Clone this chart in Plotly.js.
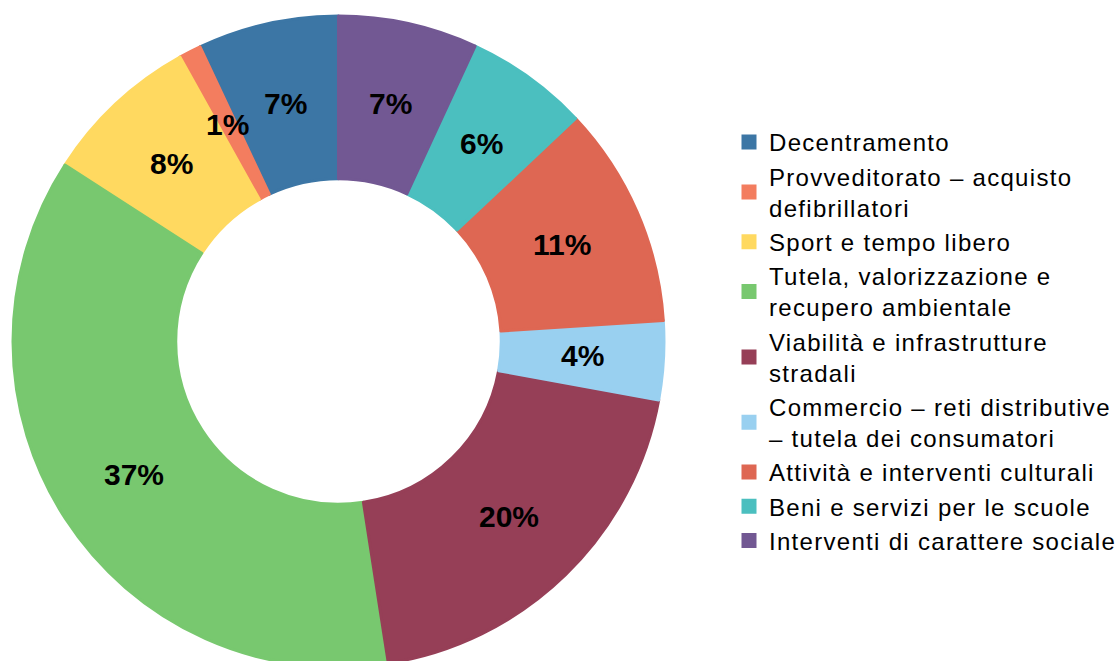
<!DOCTYPE html>
<html>
<head>
<meta charset="utf-8">
<script src="https://cdn.plot.ly/plotly-3.0.1.min.js"></script>
<style>
html, body { margin: 0; padding: 0; overflow: hidden; background: #fff; }
#chart { width: 1180px; height: 700px; }
text.legendtext { letter-spacing: 1.3px; }
</style>
</head>
<body>
<div id="chart"></div>
<script>
const labels = [
  "Decentramento",
  "Provveditorato – acquisto<br>defibrillatori",
  "Sport e tempo libero",
  "Tutela, valorizzazione e<br>recupero ambientale",
  "Viabilità e infrastrutture<br>stradali",
  "Commercio – reti distributive<br>– tutela dei consumatori",
  "Attività e interventi culturali",
  "Beni e servizi per le scuole",
  "Interventi di carattere sociale"
];
const values = [7.0, 1.1, 7.8, 36.6, 19.7, 3.9, 11.0, 6.1, 6.9];
const colors = ["#3c76a5", "#f37d5f", "#ffd960", "#78c86f", "#963f57", "#99d0f0", "#de6753", "#4bbfbf", "#725893"];

const W = 1180, H = 700;
const domX = [13 / W, 664 / W];
const domY = [1 - 667 / H, 1 - 16 / H];
const hole = 0.5;

const total = values.reduce((a, b) => a + b, 0);
// first slice starts at 12 o'clock and slices run counterclockwise
const rotation = -360 * values[0] / total;

// percentage labels at mid-ring, mid-angle of each slice
const midR = (1 + hole) / 2;
let cum = 0;
const annotations = [];
values.forEach(v => {
  const th = 2 * Math.PI * (cum + v / 2) / total;
  annotations.push({
    xref: "x", yref: "y",
    x: -Math.sin(th) * midR,
    y: Math.cos(th) * midR,
    text: Math.round(v / total * 100) + "%",
    showarrow: false,
    xanchor: "center", yanchor: "middle",
    font: { family: "Liberation Sans, Arial, sans-serif", size: 30, color: "#000", weight: "bold" }
  });
  cum += v;
});

const pie = {
  type: "pie",
  labels: labels,
  values: values,
  sort: false,
  direction: "counterclockwise",
  rotation: rotation,
  hole: hole,
  domain: { x: domX, y: domY },
  marker: { colors: colors, line: { width: 3, color: colors } },
  textinfo: "none",
  hoverinfo: "label+percent"
};

const layout = {
  width: W,
  height: H,
  autosize: false,
  margin: { l: 0, r: 0, t: 0, b: 0 },
  paper_bgcolor: "#fff",
  plot_bgcolor: "rgba(0,0,0,0)",
  font: { family: "Liberation Sans, Arial, sans-serif", color: "#000" },
  xaxis: { domain: domX, range: [-1, 1], visible: false, fixedrange: true },
  yaxis: { domain: domY, range: [-1, 1], visible: false, fixedrange: true },
  annotations: annotations,
  showlegend: true,
  legend: {
    x: 729 / W,
    xanchor: "left",
    y: 1 - 120 / H,
    yanchor: "top",
    font: { family: "Liberation Sans, Arial, sans-serif", size: 24, color: "#000" },
    itemwidth: 30,
    traceorder: "normal",
    bgcolor: "rgba(0,0,0,0)"
  }
};

Plotly.newPlot("chart", [pie], layout, { displayModeBar: false, staticPlot: true });
</script>
</body>
</html>
